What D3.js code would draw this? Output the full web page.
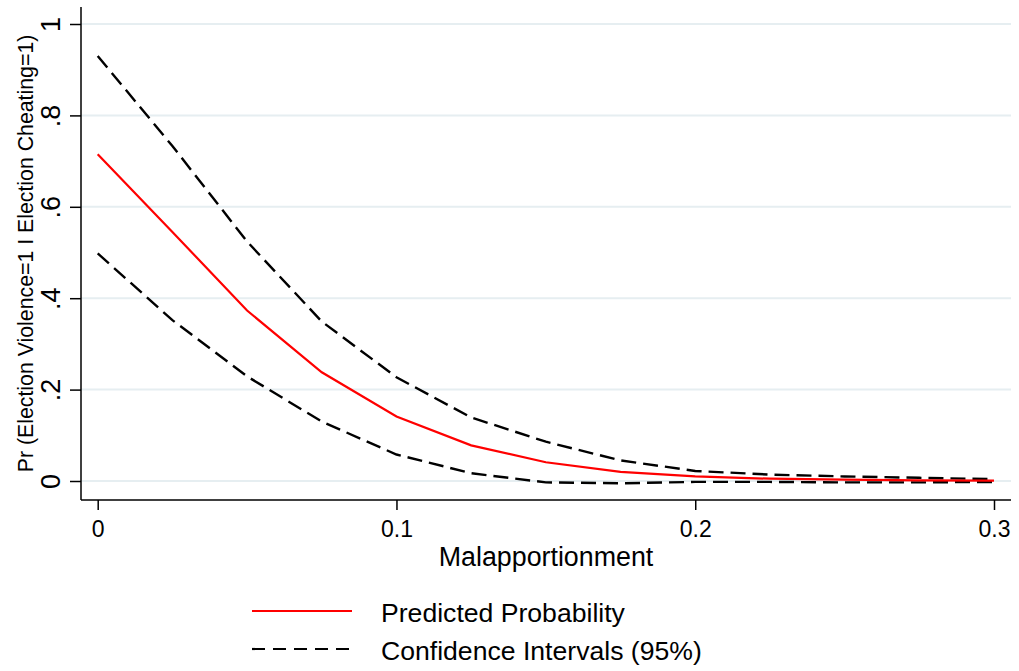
<!DOCTYPE html>
<html>
<head>
<meta charset="utf-8">
<script src="https://cdn.jsdelivr.net/npm/d3@7"></script>
<style>
  body { margin: 0; background: #fff; }
  text { font-family: "Liberation Sans", Arial, Helvetica, sans-serif; fill: #000; }
</style>
</head>
<body>
<svg id="chart" width="1019" height="671"></svg>
<script>
const malapp = [0, 0.025, 0.05, 0.075, 0.1, 0.125, 0.15, 0.175, 0.2, 0.225, 0.25, 0.275, 0.3];
const predicted = [0.715, 0.545, 0.373, 0.238, 0.141, 0.078, 0.041, 0.020, 0.010, 0.005, 0.003, 0.0015, 0.001];
const upperCI = [0.930, 0.733, 0.524, 0.349, 0.227, 0.139, 0.086, 0.045, 0.022, 0.014, 0.010, 0.007, 0.004];
const lowerCI = [0.498, 0.352, 0.229, 0.130, 0.058, 0.017, -0.003, -0.005, -0.002, -0.002, -0.003, -0.003, -0.002];
const xTicks = [0, 0.1, 0.2, 0.3];
const yTicks = [0, 0.2, 0.4, 0.6, 0.8, 1];
const legendLabels = ["Predicted Probability", "Confidence Intervals (95%)"];

const svg = d3.select("#chart");
const plot = {left: 81, right: 1011, top: 7, bottom: 500};

const x = d3.scaleLinear().domain([0, 0.3]).range([97.7, 994]);
const y = d3.scaleLinear().domain([0, 1]).range([481, 24]);

// gridlines
svg.append("g")
  .selectAll("line")
  .data(yTicks)
  .join("line")
  .attr("x1", plot.left)
  .attr("x2", plot.right)
  .attr("y1", d => y(d))
  .attr("y2", d => y(d))
  .attr("stroke", "#e6eef1")
  .attr("stroke-width", 2);

// y axis
const yAxis = svg.append("g")
  .attr("transform", `translate(${plot.left},0)`)
  .call(d3.axisLeft(y).tickValues(yTicks).tickSize(11).tickPadding(0)
    .tickFormat(d => d === 0 ? "0" : d === 1 ? "1" : d3.format(".1f")(d).replace(/^0/, "")));
yAxis.select(".domain").attr("d", `M0,${plot.top}V${plot.bottom}`).attr("stroke", "#000").attr("stroke-width", 1.5);
yAxis.selectAll(".tick line").attr("stroke", "#000").attr("stroke-width", 1.5);
yAxis.selectAll(".tick text")
  .attr("x", 0).attr("dy", null)
  .attr("transform", "translate(-21.5,0) rotate(-90)")
  .attr("text-anchor", "middle")
  .style("font-size", "27px");

// x axis
const xAxis = svg.append("g")
  .attr("transform", `translate(0,${plot.bottom})`)
  .call(d3.axisBottom(x).tickValues(xTicks).tickSize(10).tickPadding(0).tickFormat(d => d === 0 ? "0" : d3.format(".1f")(d)));
xAxis.select(".domain").attr("d", `M${plot.left},0H${plot.right}`).attr("stroke", "#000").attr("stroke-width", 1.5);
xAxis.selectAll(".tick line").attr("stroke", "#000").attr("stroke-width", 1.5);
xAxis.selectAll(".tick text")
  .attr("y", 37).attr("dy", null)
  .style("font-size", "23px");

svg.selectAll(".domain").attr("fill", "none");
svg.selectAll(".tick text").attr("fill", "#000");

// axis titles
svg.append("text")
  .attr("x", (plot.left + plot.right) / 2)
  .attr("y", 566)
  .attr("text-anchor", "middle")
  .style("font-size", "26.8px")
  .text("Malapportionment");

svg.append("text")
  .attr("transform", `translate(33,${(plot.top + plot.bottom) / 2}) rotate(-90)`)
  .attr("text-anchor", "middle")
  .style("font-size", "21.3px")
  .text("Pr (Election Violence=1 I Election Cheating=1)");

// lines
const line = vals => d3.line()
  .x((d, i) => x(malapp[i]))
  .y(d => y(d))(vals);

svg.append("path")
  .attr("d", line(upperCI))
  .attr("fill", "none")
  .attr("stroke", "#000")
  .attr("stroke-width", 2.4)
  .attr("stroke-dasharray", "15,7");

svg.append("path")
  .attr("d", line(lowerCI))
  .attr("fill", "none")
  .attr("stroke", "#000")
  .attr("stroke-width", 2.4)
  .attr("stroke-dasharray", "15,7");

svg.append("path")
  .attr("d", line(predicted))
  .attr("fill", "none")
  .attr("stroke", "#ff0000")
  .attr("stroke-width", 2.2);

// legend
const legend = svg.append("g");
const legendY = [611, 649];
legend.selectAll("line")
  .data(legendLabels)
  .join("line")
  .attr("x1", 252)
  .attr("x2", 352)
  .attr("y1", (d, i) => legendY[i])
  .attr("y2", (d, i) => legendY[i])
  .attr("stroke", (d, i) => i === 0 ? "#ff0000" : "#000")
  .attr("stroke-width", 2.2)
  .attr("stroke-dasharray", (d, i) => i === 0 ? null : "13,8");

legend.selectAll("text")
  .data(legendLabels)
  .join("text")
  .attr("x", 381)
  .attr("y", (d, i) => legendY[i] + 11)
  .style("font-size", "26.6px")
  .text(d => d);
</script>
</body>
</html>
